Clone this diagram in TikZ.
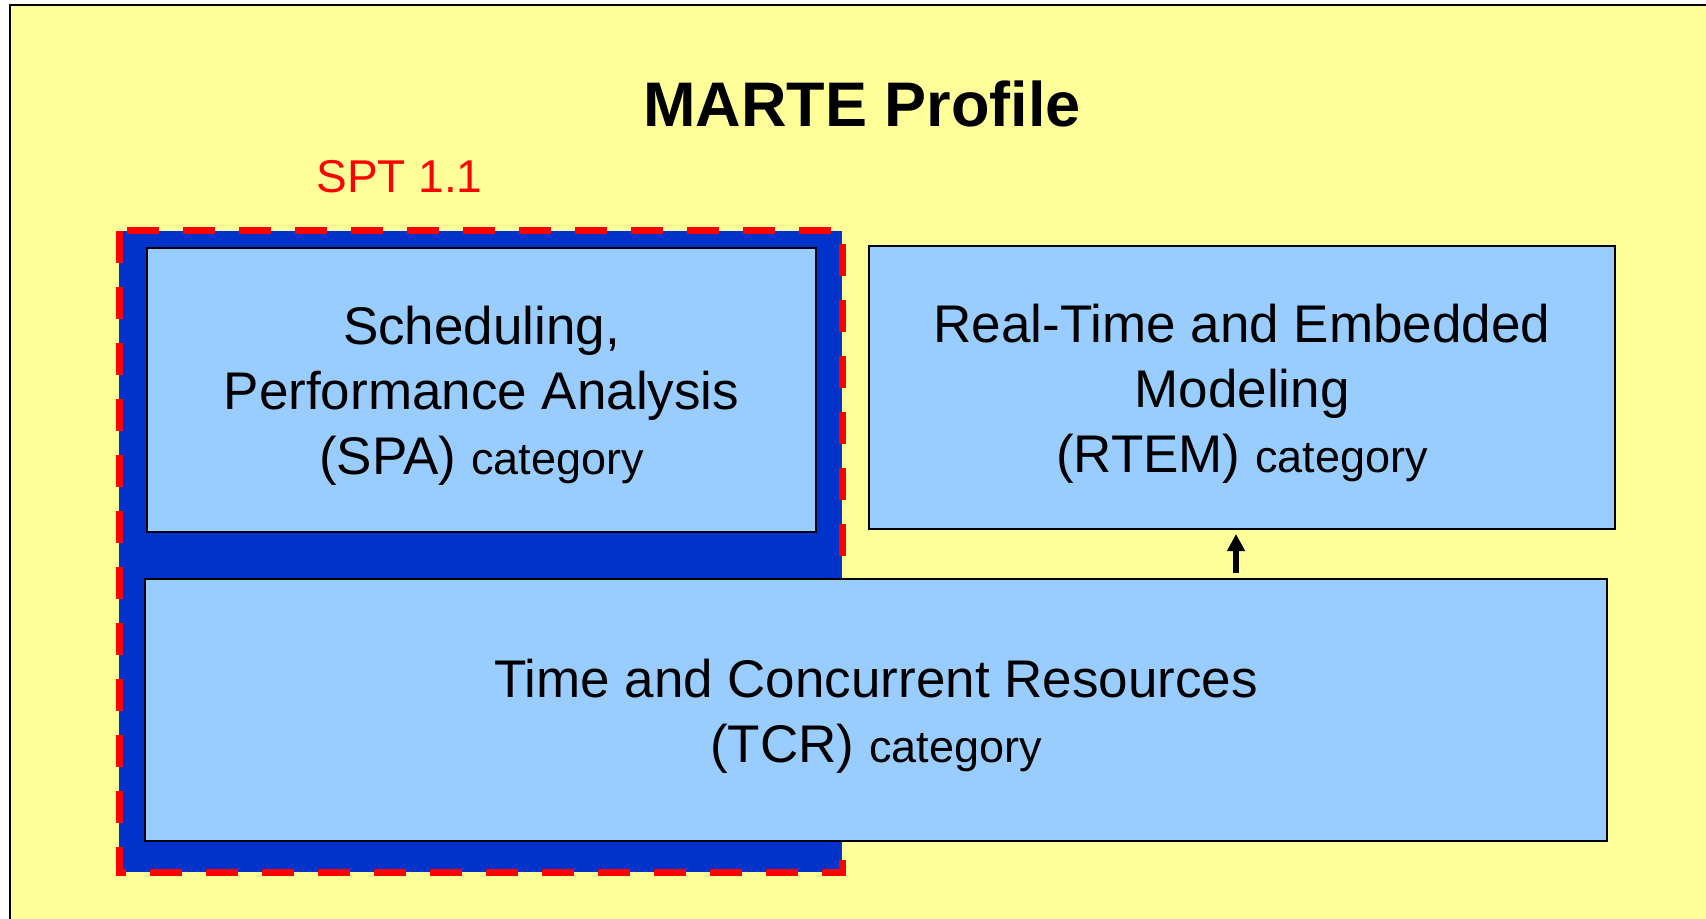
\documentclass[tikz,border=0pt]{standalone}
\usepackage{fontspec}
\setmainfont{Liberation Sans}
\usetikzlibrary{arrows.meta}
\definecolor{profile}{HTML}{FFFF99}
\definecolor{catfill}{HTML}{99CCFF}
\definecolor{sptblue}{HTML}{0033CC}
\newcommand{\catword}{{\fontsize{22.5}{32.5}\selectfont category}}
\newcommand{\toppad}{\rule{0pt}{25pt}}

\begin{document}
\begin{tikzpicture}[x=0.5pt, y=-0.5pt,
  cat/.style={draw, line width=1pt, fill=catfill, align=center, inner sep=0pt,
    font=\fontsize{26.5}{32.5}\selectfont},
  spt/.style={draw=red, line width=3.5pt, dash pattern=on 16pt off 12pt, fill=sptblue},
  arr/.style={-{Triangle[length=8.5pt, width=8.5pt]}, line width=3pt, shorten <=2.5pt, shorten >=2pt}]
  \clip (0,0) rectangle (1706,919);
  \useasboundingbox (0,0) rectangle (1706,919);
  % profile frame
  \draw[line width=1pt, fill=profile] (10,5) rectangle (1730,940);
  \node[anchor=base, font=\fontsize{31.5}{36}\selectfont\bfseries] (title) at (862,127) {MARTE Profile};
  \node[anchor=base west, text=red, font=\fontsize{23}{28}\selectfont, inner sep=0pt] (sptlab) at (316,193) {SPT 1.1};
  % SPT 1.1 area
  \draw[spt] (119,231) rectangle (842,872);
  % categories
  \node[cat, minimum width=334.5pt, minimum height=142pt] (spa) at (481.5,390)
    {\toppad Scheduling,\\Performance Analysis\\(SPA) \catword};
  \node[cat, minimum width=373pt, minimum height=141.5pt] (rtem) at (1242,387.5)
    {\toppad Real-Time and Embedded\\Modeling\\(RTEM) \catword};
  \node[cat, minimum width=731pt, minimum height=131pt] (tcr) at (876,710)
    {\toppad Time and Concurrent Resources\\(TCR) \catword};
  \draw[arr] ([xshift=-3pt]rtem.south |- tcr.north) -- ([xshift=-3pt]rtem.south);
\end{tikzpicture}
\end{document}
